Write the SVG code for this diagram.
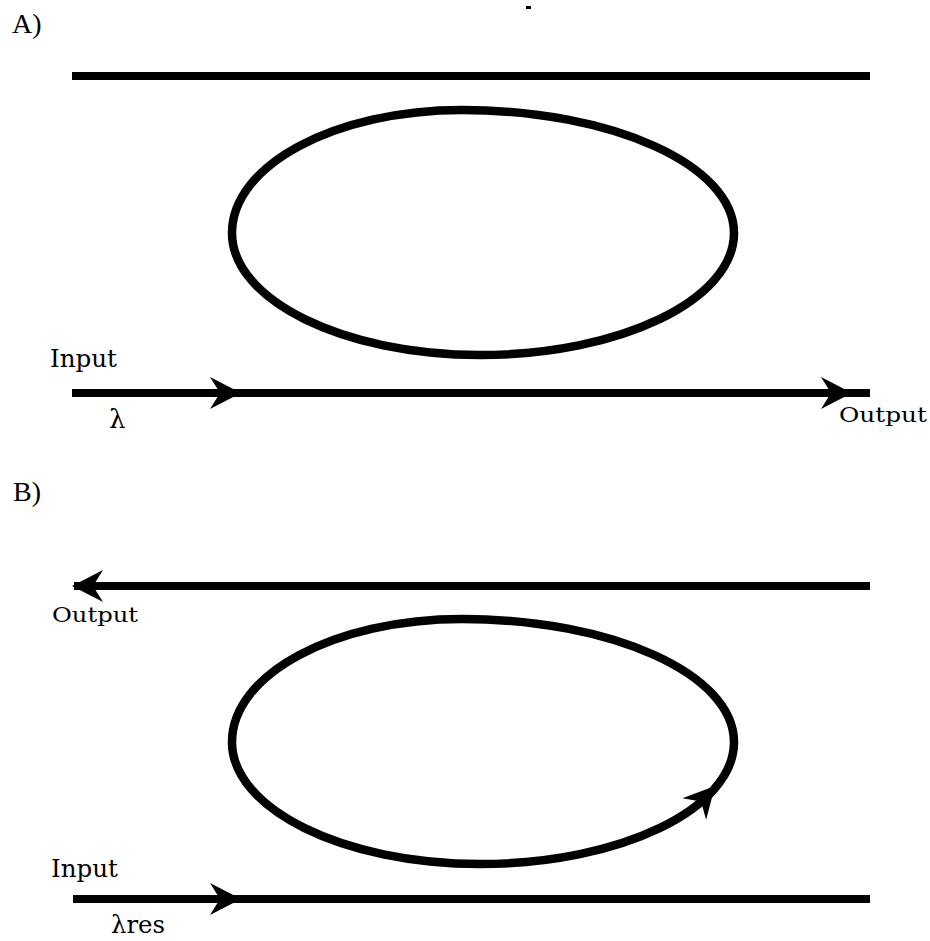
<svg xmlns="http://www.w3.org/2000/svg" width="930" height="941" viewBox="0 0 930 941">
  <style>
    .wg { stroke: #000; stroke-width: 8; fill: none; stroke-linecap: butt; }
    .ring { stroke: #000; stroke-width: 8.5; fill: none; }
    .head { fill: #000; }
    .lbl { font-family: "DejaVu Serif", "Liberation Serif", serif; fill: #000; }
    .tag { font-family: "Liberation Serif", "DejaVu Serif", serif; font-size: 28px; fill: #000; }
  </style>
  <defs>
    <!-- barbed arrowhead, tip at origin, pointing +x -->
    <path id="arrowhead" class="head" d="M0,0 L-31,-16 L-21,0 L-31,16 Z"/>
    <!-- slightly skewed ring outline -->
    <path id="ringShape" d="M232,233 C232,165 335,110 462,110 C612,110 734,165 734,233 C734,300 620,355 480,355 C343,355 232,300 232,233 Z"/>
  </defs>

  <rect x="526" y="6" width="5" height="3" fill="#000"/>

  <!-- panel A -->
  <g id="panelA">
    <text class="tag" x="12" y="33">A)</text>
    <g id="a-top-waveguide">
      <line class="wg" x1="72" y1="76" x2="870" y2="76"/>
    </g>
    <g id="a-ring">
      <use href="#ringShape" class="ring"/>
    </g>
    <g id="a-bus-waveguide">
      <line class="wg" x1="72" y1="393" x2="870" y2="393"/>
      <text class="lbl" x="50" y="367" font-size="24" textLength="67" lengthAdjust="spacingAndGlyphs">Input</text>
      <text class="lbl" x="109" y="428" font-size="26">λ</text>
      <text class="lbl" x="839" y="422" font-size="21" textLength="88" lengthAdjust="spacingAndGlyphs">Output</text>
    </g>
  </g>

  <!-- panel B -->
  <g id="panelB">
    <text class="tag" x="13" y="501">B)</text>
    <g id="b-top-waveguide">
      <line class="wg" x1="74" y1="586" x2="870" y2="586"/>
      <text class="lbl" x="52" y="622" font-size="21" textLength="86" lengthAdjust="spacingAndGlyphs">Output</text>
    </g>
    <g id="b-ring">
      <use href="#ringShape" class="ring" transform="translate(0,509)"/>
    </g>
    <g id="b-bus-waveguide">
      <line class="wg" x1="73" y1="899" x2="870" y2="899"/>
      <text class="lbl" x="51" y="877" font-size="24" textLength="67" lengthAdjust="spacingAndGlyphs">Input</text>
      <text class="lbl" x="111" y="933" font-size="24" textLength="54" lengthAdjust="spacingAndGlyphs">λres</text>
    </g>
  </g>

  <!-- propagation arrows -->
  <g id="connectors">
    <use href="#arrowhead" transform="translate(241,393)"/>
    <use href="#arrowhead" transform="translate(852,393)"/>
    <use href="#arrowhead" transform="translate(72,586) rotate(180)"/>
    <use href="#arrowhead" transform="translate(715,786) rotate(-48)"/>
    <use href="#arrowhead" transform="translate(241,899)"/>
  </g>
</svg>
